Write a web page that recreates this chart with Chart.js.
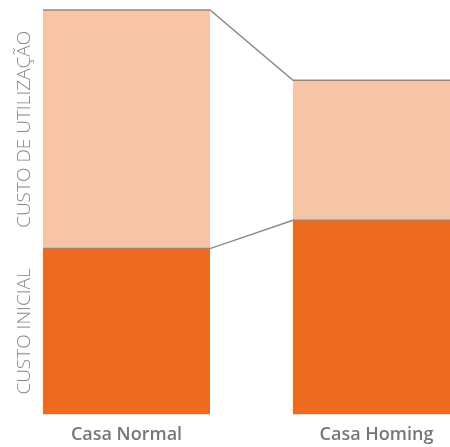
<!DOCTYPE html>
<html>
<head>
<meta charset="utf-8">
<script src="https://cdn.jsdelivr.net/npm/chart.js@4.4.1/dist/chart.umd.min.js"></script>
<style>
  html, body { margin: 0; padding: 0; background: #fff; }
  #wrap { width: 450px; height: 447px; overflow: hidden; }
  canvas { display: block; }
</style>
</head>
<body>
<div id="wrap"><canvas id="chart-costs" width="502" height="448"></canvas></div>
<script>
// chart data
var categories = ["Casa Normal", "Casa Homing"];
var initialCost = [41, 48];
var usageCost = [59, 34.6];
var segmentLabels = ["CUSTO INICIAL", "CUSTO DE UTILIZAÇÃO"];

// connector lines along the top of each stack level + side labels
var connectors = {
    id: "connectors",
    afterDatasetsDraw: function (chart) {
        var ctx = chart.ctx;
        ctx.save();
        ctx.strokeStyle = "#8a8a8a";
        ctx.lineWidth = 1.5;
        chart.data.datasets.forEach(function (ds, d) {
            var bars = chart.getDatasetMeta(d).data;
            ctx.beginPath();
            bars.forEach(function (bar, i) {
                var left = bar.x - bar.width / 2;
                var right = bar.x + bar.width / 2;
                if (i === 0) ctx.moveTo(left, bar.y);
                else ctx.lineTo(left, bar.y);
                ctx.lineTo(right, bar.y);
            });
            ctx.stroke();
        });

        // rotated segment labels, centred on the first stack
        var y = chart.scales.y;
        var mids = [initialCost[0] / 2, initialCost[0] + usageCost[0] / 2];
        ctx.fillStyle = "#858585";
        ctx.font = "300 19px 'Open Sans'";
        ctx.textAlign = "center";
        ctx.textBaseline = "middle";
        mids.forEach(function (v, i) {
            ctx.save();
            ctx.translate(25, y.getPixelForValue(v));
            ctx.rotate(-Math.PI / 2);
            ctx.fillText(segmentLabels[i], 0, 0);
            ctx.restore();
        });
        ctx.restore();
    }
};

var ctx1 = document.getElementById("chart-costs").getContext("2d");

new Chart(ctx1, {
    type: "bar",
    data: {
        labels: categories,
        datasets: [{
            label: segmentLabels[0],
            data: initialCost,
            backgroundColor: "#ec6b1f",
            borderWidth: 0,
            categoryPercentage: 1,
            barPercentage: 0.668
        }, {
            label: segmentLabels[1],
            data: usageCost,
            backgroundColor: "#f6c4a6",
            borderWidth: 0,
            categoryPercentage: 1,
            barPercentage: 0.668
        }]
    },
    options: {
        responsive: false,
        animation: false,
        layout: {
            padding: { left: 1.5, right: 0.5, top: 10, bottom: 0 }
        },
        plugins: {
            legend: { display: false },
            tooltip: { enabled: false }
        },
        scales: {
            x: {
                stacked: true,
                grid: { display: false },
                border: { display: false },
                ticks: {
                    color: "#777777",
                    padding: 2,
                    font: { size: 18, family: "Open Sans", weight: 600 }
                }
            },
            y: {
                stacked: true,
                display: false,
                min: 0,
                max: 100
            }
        }
    },
    plugins: [connectors]
});
</script>
</body>
</html>
